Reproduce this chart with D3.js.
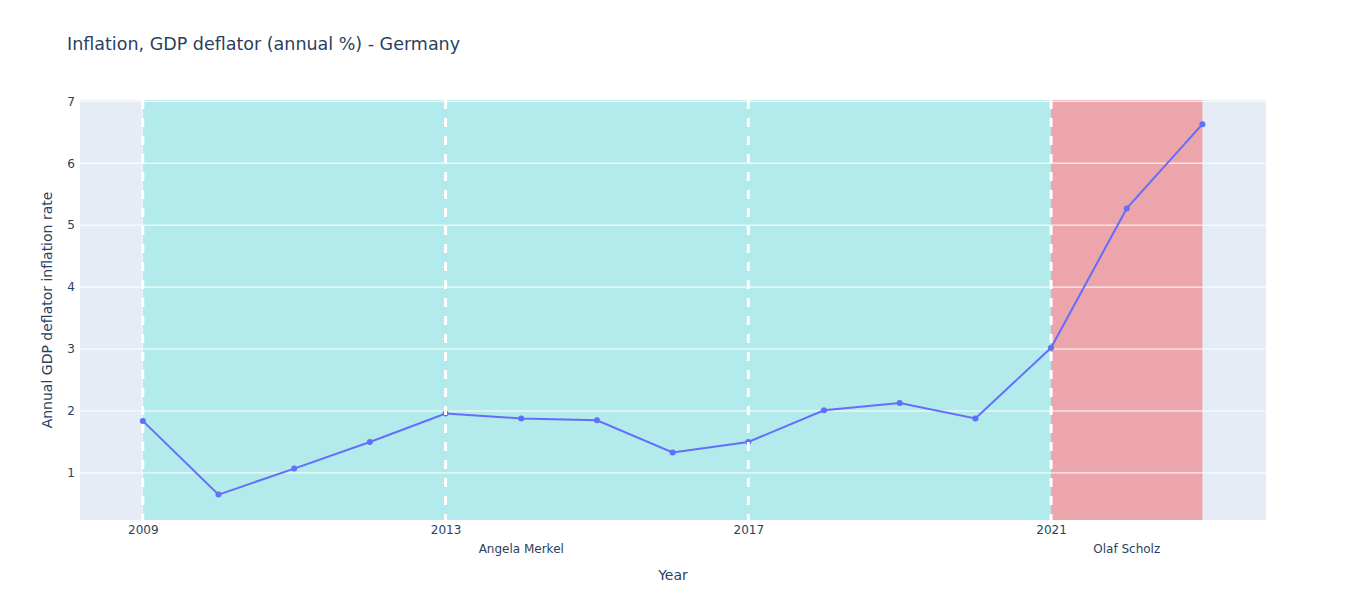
<!DOCTYPE html>
<html>
<head>
<meta charset="utf-8">
<script src="https://cdn.jsdelivr.net/npm/d3@7"></script>
<style>
  body { margin: 0; background: #fff; }
  text { font-family: "DejaVu Sans", verdana, arial, sans-serif; fill: #2a3f5f; }
</style>
</head>
<body>
<svg id="chart" width="1346" height="600"></svg>
<script>
// data
var years = [2009, 2010, 2011, 2012, 2013, 2014, 2015, 2016, 2017, 2018, 2019, 2020, 2021, 2022, 2023];
var deflator = [1.84, 0.65, 1.07, 1.50, 1.96, 1.88, 1.85, 1.33, 1.50, 2.01, 2.13, 1.88, 3.02, 5.27, 6.63];

var leaders = ["Angela Merkel", "Olaf Scholz"];
var termStart = [2009, 2021];
var termEnd = [2021, 2023];
var leaderLabelYear = [2014, 2022];
var leaderColors = ["#b3eaeb", "#eca5aa"];

var dashYears = [2009, 2013, 2017, 2021];
var yTicks = [1, 2, 3, 4, 5, 6, 7];

function drawChart() {
    var svg = d3.select("#chart");
    var pLeft = 80, pRight = 1266, pTop = 100, pBottom = 520;

    var x = d3.scaleLinear().domain([2008.17, 2023.84]).range([pLeft, pRight]);
    var y = d3.scaleLinear().domain([0.24, 7.02]).range([pBottom, pTop]);

    // plot background
    svg.append("rect")
        .attr("x", pLeft).attr("y", pTop)
        .attr("width", pRight - pLeft).attr("height", pBottom - pTop)
        .attr("fill", "#e5ecf6");

    // vertical grid, faint under the bands
    svg.selectAll(".vgrid").data(dashYears).enter().append("line")
        .attr("x1", d => x(d)).attr("x2", d => x(d))
        .attr("y1", pTop).attr("y2", pBottom)
        .attr("stroke", "#fff").attr("stroke-width", 1);

    // term bands
    svg.selectAll(".term").data(leaders).enter().append("rect")
        .attr("x", (d, i) => x(termStart[i]))
        .attr("y", pTop)
        .attr("width", (d, i) => x(termEnd[i]) - x(termStart[i]))
        .attr("height", pBottom - pTop)
        .attr("fill", (d, i) => leaderColors[i]);

    // horizontal grid
    svg.selectAll(".hgrid").data(yTicks).enter().append("line")
        .attr("x1", pLeft).attr("x2", pRight)
        .attr("y1", d => y(d)).attr("y2", d => y(d))
        .attr("stroke", "#fff").attr("stroke-width", 1);

    // y axis labels
    var yAxis = d3.axisLeft(y).tickValues(yTicks).tickSize(0).tickPadding(5).tickFormat(d3.format("d"));
    var yg = svg.append("g").attr("transform", "translate(" + pLeft + ",0)").call(yAxis);
    yg.select(".domain").remove();
    yg.selectAll("text").style("font-size", "12px").attr("fill", "#2a3f5f");

    // x axis labels
    var xAxis = d3.axisBottom(x).tickValues(dashYears).tickSize(0).tickPadding(5).tickFormat(d3.format("d"));
    var xg = svg.append("g").attr("transform", "translate(0," + pBottom + ")").call(xAxis);
    xg.select(".domain").remove();
    xg.selectAll("text").style("font-size", "12px").attr("fill", "#2a3f5f");

    // line + markers
    var line = d3.line().x((d, i) => x(years[i])).y(d => y(d));
    svg.append("path")
        .datum(deflator)
        .attr("d", line)
        .attr("fill", "none")
        .attr("stroke", "#636efa")
        .attr("stroke-width", 2);

    svg.selectAll(".pt").data(deflator).enter().append("circle")
        .attr("cx", (d, i) => x(years[i]))
        .attr("cy", d => y(d))
        .attr("r", 3)
        .attr("fill", "#636efa");

    // dashed term boundaries
    svg.selectAll(".dash").data(dashYears).enter().append("line")
        .attr("x1", d => x(d)).attr("x2", d => x(d))
        .attr("y1", pTop).attr("y2", pBottom)
        .attr("stroke", "#fff").attr("stroke-width", 3)
        .attr("stroke-dasharray", "9,9");

    // leader names under the axis
    svg.selectAll(".leader").data(leaders).enter().append("text")
        .attr("x", (d, i) => x(leaderLabelYear[i]))
        .attr("y", 553)
        .attr("text-anchor", "middle")
        .style("font-size", "12px")
        .text(d => d);

    // titles
    svg.append("text")
        .attr("x", 67).attr("y", 50)
        .style("font-size", "17.5px")
        .text("Inflation, GDP deflator (annual %) - Germany");

    svg.append("text")
        .attr("x", (pLeft + pRight) / 2).attr("y", 580)
        .attr("text-anchor", "middle")
        .style("font-size", "14px")
        .text("Year");

    svg.append("text")
        .attr("transform", "translate(52," + (pTop + pBottom) / 2 + ") rotate(-90)")
        .attr("text-anchor", "middle")
        .style("font-size", "14px")
        .text("Annual GDP deflator inflation rate");
}

drawChart();
</script>
</body>
</html>
